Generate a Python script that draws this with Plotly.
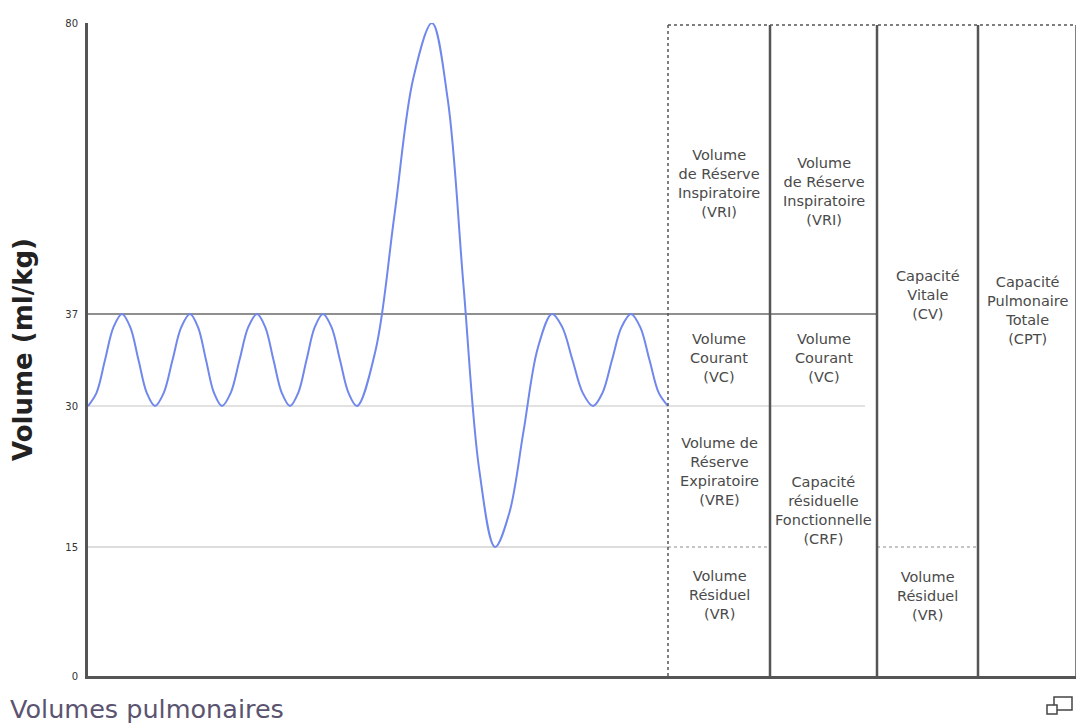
import numpy as np
import plotly.graph_objects as go

# ---- data -------------------------------------------------------------
tick_values = [0, 15, 30, 37, 80]
tick_labels = ["0", "15", "30", "37", "80"]
# schematic (non-linear) vertical position of each level on the axis
tick_positions = [0, 129, 270, 362, 653]

# breathing trace (time units, volume ml/kg)
wave_t = [0, 8.5, 17, 25.5, 34, 42.25, 50.5, 58.75, 67, 75.75, 84.5, 93.25,
          102, 110, 118, 126, 134, 142.75, 151.5, 160.25, 169, 177.25, 185.5,
          193.75, 202, 210.25, 218.5, 226.75, 235, 243.5, 252, 260.5, 269,
          287.75, 306.5, 325.25, 344, 359.75, 375.5, 391.25, 407, 421.25,
          435.5, 449.75, 464, 474.25, 484.5, 494.75, 505, 514.5, 524, 533.5,
          543, 552.25, 561.5, 570.75, 580]
wave_v = [30, 31.0, 33.5, 36.0, 37, 36.0, 33.5, 31.0, 30, 31.0, 33.5, 36.0,
          37, 36.0, 33.5, 31.0, 30, 31.0, 33.5, 36.0, 37, 36.0, 33.5, 31.0,
          30, 31.0, 33.5, 36.0, 37, 36.0, 33.5, 31.0, 30,
          34.3, 51.7, 71.8, 80, 68.7, 41.2, 23.2, 15, 18.6, 27.3, 34.4,
          37, 36.0, 33.5, 31.0, 30, 31.0, 33.5, 36.0, 37, 36.0, 33.5, 31.0, 30]

cell_texts = [
    "Volume<br>de Réserve<br>Inspiratoire<br>(VRI)",
    "Volume<br>Courant<br>(VC)",
    "Volume de<br>Réserve<br>Expiratoire<br>(VRE)",
    "Volume<br>Résiduel<br>(VR)",
    "Volume<br>de Réserve<br>Inspiratoire<br>(VRI)",
    "Volume<br>Courant<br>(VC)",
    "Capacité<br>résiduelle<br>Fonctionnelle<br>(CRF)",
    "Capacité<br>Vitale<br>(CV)",
    "Volume<br>Résiduel<br>(VR)",
    "Capacité<br>Pulmonaire<br>Totale<br>(CPT)",
]
# ---- layout constants --------------------------------------------------
cell_col = [0, 0, 0, 0, 1, 1, 1, 2, 2, 3]
cell_y = [493, 318, 205, 81, 485, 318, 166, 381, 80, 366]
col_edges = [580, 682, 789, 890, 988]
TOP = 651


def scale(v):
    return np.interp(v, tick_values, tick_positions)


fig = go.Figure()
fig.add_trace(go.Scatter(
    x=wave_t, y=scale(wave_v), mode="lines",
    line=dict(color="rgb(112,136,236)", width=2, shape="spline", smoothing=1),
    cliponaxis=False, hoverinfo="skip", showlegend=False))

shapes = []
DARK = "#555555"
# level lines
shapes.append(dict(type="line", x0=0, x1=col_edges[2], y0=scale(37), y1=scale(37),
                   line=dict(color="#6a6a6a", width=1.5), layer="below"))
shapes.append(dict(type="line", x0=0, x1=col_edges[2] - 12, y0=scale(30), y1=scale(30),
                   line=dict(color="#e2e2e2", width=2), layer="below"))
shapes.append(dict(type="line", x0=0, x1=col_edges[0], y0=scale(15), y1=scale(15),
                   line=dict(color="#dcdcdc", width=2), layer="below"))
shapes.append(dict(type="line", x0=col_edges[0], x1=col_edges[1], y0=scale(15), y1=scale(15),
                   line=dict(color="#8a8a8a", width=1, dash="dot"), layer="below"))
shapes.append(dict(type="line", x0=col_edges[2], x1=col_edges[3], y0=scale(15), y1=scale(15),
                   line=dict(color="#8a8a8a", width=1, dash="dot"), layer="below"))
# table top
shapes.append(dict(type="line", x0=col_edges[0], x1=col_edges[4], y0=TOP, y1=TOP,
                   line=dict(color=DARK, width=1.5, dash="dot")))
# table verticals
shapes.append(dict(type="line", x0=col_edges[0], x1=col_edges[0], y0=0, y1=TOP,
                   line=dict(color=DARK, width=1.5, dash="dot")))
for xe in col_edges[1:4]:
    shapes.append(dict(type="line", x0=xe, x1=xe, y0=0, y1=TOP,
                       line=dict(color=DARK, width=2.5)))
shapes.append(dict(type="line", x0=col_edges[4], x1=col_edges[4], y0=0, y1=TOP,
                   line=dict(color=DARK, width=1.5)))


# enlarge icon (bottom right), in pixel -> paper coordinates
def px_x(p):
    return (p - 88) / (1076 - 88)


def px_y(p):
    return (676 - p) / (676 - 23)


shapes.append(dict(type="rect", xref="paper", yref="paper",
                   x0=px_x(1054), x1=px_x(1072), y0=px_y(710), y1=px_y(697),
                   line=dict(color="#444", width=1.5), fillcolor="white"))
shapes.append(dict(type="rect", xref="paper", yref="paper",
                   x0=px_x(1047), x1=px_x(1057), y0=px_y(714), y1=px_y(705),
                   line=dict(color="#444", width=1.5), fillcolor="white"))

annotations = []
for txt, c, yv in zip(cell_texts, cell_col, cell_y):
    annotations.append(dict(
        x=(col_edges[c] + col_edges[c + 1]) / 2, y=yv, xref="x", yref="y",
        text=txt, showarrow=False, align="center",
        font=dict(family="DejaVu Sans", size=14.5, color="#4a4a4a")))

annotations.append(dict(
    text="Volumes pulmonaires", xref="paper", yref="paper",
    x=px_x(8), y=px_y(709), xanchor="left", yanchor="middle", showarrow=False,
    font=dict(family="DejaVu Sans", size=25.5, color="#5b5470")))

fig.update_layout(
    width=1081, height=723,
    margin=dict(l=88, r=5, t=23, b=47),
    paper_bgcolor="white", plot_bgcolor="white",
    shapes=shapes, annotations=annotations,
    xaxis=dict(range=[0, 988], showgrid=False, zeroline=False,
               showticklabels=False, ticks="", showline=True,
               linecolor=DARK, linewidth=3, fixedrange=True),
    yaxis=dict(range=[0, 653], showgrid=False, zeroline=False,
               tickvals=list(scale(tick_values)), ticktext=tick_labels,
               tickfont=dict(family="DejaVu Sans", size=10, color="#333"),
               ticks="", ticklabelstandoff=5,
               showline=True, linecolor=DARK, linewidth=3,
               title=dict(text="<b>Volume (ml/kg)</b>",
                          font=dict(family="DejaVu Sans", size=26, color="#222"),
                          standoff=26),
               fixedrange=True),
)

fig.write_html("out.html",
               config={"displayModeBar": False},
               post_script="document.body.style.margin='0';"
                           "document.body.style.overflow='hidden';")
